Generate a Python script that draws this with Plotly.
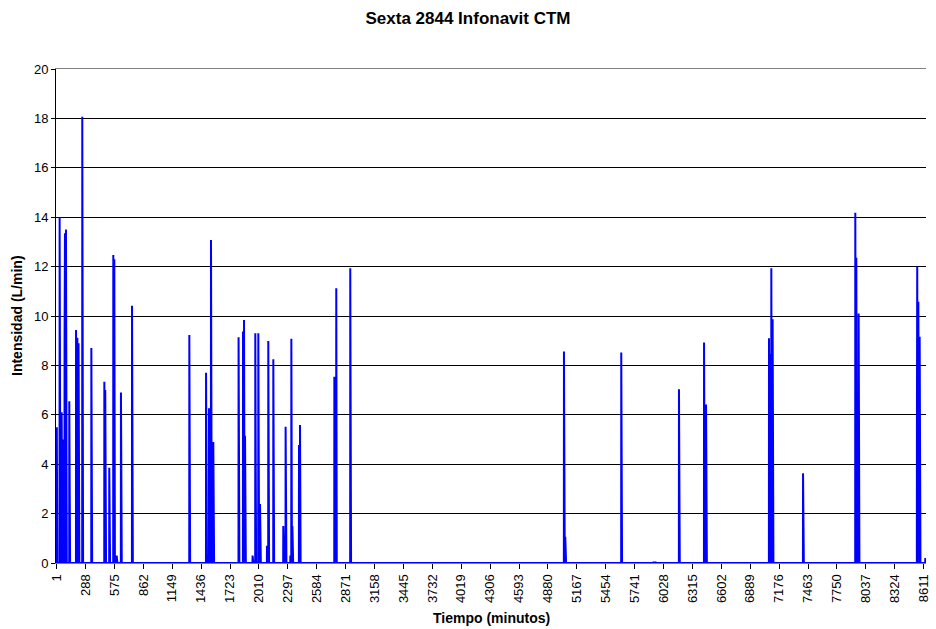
import numpy as np
import plotly.graph_objects as go

# Nonzero readings (minute index, L/min); all other minutes read 0
spike_minutes = [3, 31, 38, 51, 71, 80, 84, 94, 127, 194, 207, 219, 256, 346, 475, 484, 524,
                 564, 574, 597, 640, 750, 1319, 1485, 1507, 1514, 1534, 1557, 1808, 1815,
                 1852, 1862, 1872, 1947, 1974, 2004, 2021, 2090, 2103, 2153, 2252, 2275,
                 2322, 2332, 2342, 2408, 2418, 2759, 2769, 2778, 2917, 5039, 5052, 5608,
                 5926, 5946, 6181, 6430, 6450, 7075, 7088, 7098, 7111, 7413, 7932, 7942,
                 7965, 8544, 8547, 8558, 8571, 8627]
spike_values = [5.5, 14.0, 13.8, 6.1, 5.0, 8.9, 13.35, 13.5, 6.55, 9.43, 9.12, 8.9, 18.07,
                8.7, 7.34, 7.0, 3.86, 12.47, 12.3, 0.3, 6.9, 10.42, 9.23, 7.7, 0.3, 6.27,
                13.08, 4.9, 9.14, 0.4, 9.37, 9.84, 5.15, 0.3, 9.3, 9.3, 2.39, 0.7, 8.99,
                8.25, 1.5, 5.52, 0.3, 9.08, 1.5, 4.78, 5.59, 7.54, 2.4, 11.12, 11.93, 8.56,
                1.06, 8.52, 0.05, 0.05, 7.03, 8.93, 6.42, 9.1, 8.46, 11.93, 9.87, 3.63,
                14.18, 12.36, 10.1, 5.72, 12.0, 10.58, 9.16, 0.2]
n_minutes = 8634

tick_labels = ["1", "288", "575", "862", "1149", "1436", "1723", "2010", "2297", "2584",
               "2871", "3158", "3445", "3732", "4019", "4306", "4593", "4880", "5167",
               "5454", "5741", "6028", "6315", "6602", "6889", "7176", "7463", "7750",
               "8037", "8324", "8611"]
y_ticks = [0, 2, 4, 6, 8, 10, 12, 14, 16, 18, 20]

minutes = np.arange(1, n_minutes + 1)
values = np.zeros(n_minutes)
for m, v in zip(spike_minutes, spike_values):
    values[m - 1] = v

fig = go.Figure(go.Scatter(x=minutes, y=values, mode="lines",
                           line=dict(color="#0000FF", width=2), hoverinfo="skip"))

font = "Liberation Sans, Arial, sans-serif"
fig.update_layout(
    width=936, height=629,
    margin=dict(l=56, r=10, t=69, b=66, autoexpand=False),
    paper_bgcolor="white", plot_bgcolor="white",
    showlegend=False,
    font=dict(family=font, size=13, color="black"),
    title=dict(text="<b>Sexta 2844 Infonavit CTM</b>", x=0.5, xanchor="center",
               y=1 - 18 / 629, yanchor="middle", font=dict(size=17, family=font)),
    annotations=[
        dict(text="<b>Tiempo (minutos)</b>", xref="paper", yref="paper",
             x=0.5, y=-55 / 494, xanchor="center", yanchor="middle",
             showarrow=False, font=dict(size=14)),
        dict(text="<b>Intensidad (L/min)</b>", xref="paper", yref="paper",
             x=-39 / 870, y=0.5, xanchor="center", yanchor="middle", textangle=-90,
             showarrow=False, font=dict(size=14)),
    ],
)
fig.update_xaxes(
    range=[-5, 8634], automargin=False,
    tickmode="array", tickvals=[int(t) for t in tick_labels], ticktext=tick_labels,
    tickangle=-90, ticks="outside", ticklen=5, tickcolor="black",
    showgrid=False, zeroline=False,
    showline=True, linecolor="#808080", linewidth=1, mirror=True,
    tickfont=dict(size=13),
)
fig.update_yaxes(
    range=[0, 20], automargin=False, tickvals=y_ticks, ticks="outside", ticklen=4,
    tickcolor="black",
    showgrid=True, gridcolor="black", gridwidth=1, zeroline=False,
    showline=True, linecolor="black", linewidth=1,
    tickfont=dict(size=13),
)
fig.write_html("out.html", config={"displayModeBar": False},
               post_script="document.body.style.margin='0';document.body.style.overflow='hidden';")
